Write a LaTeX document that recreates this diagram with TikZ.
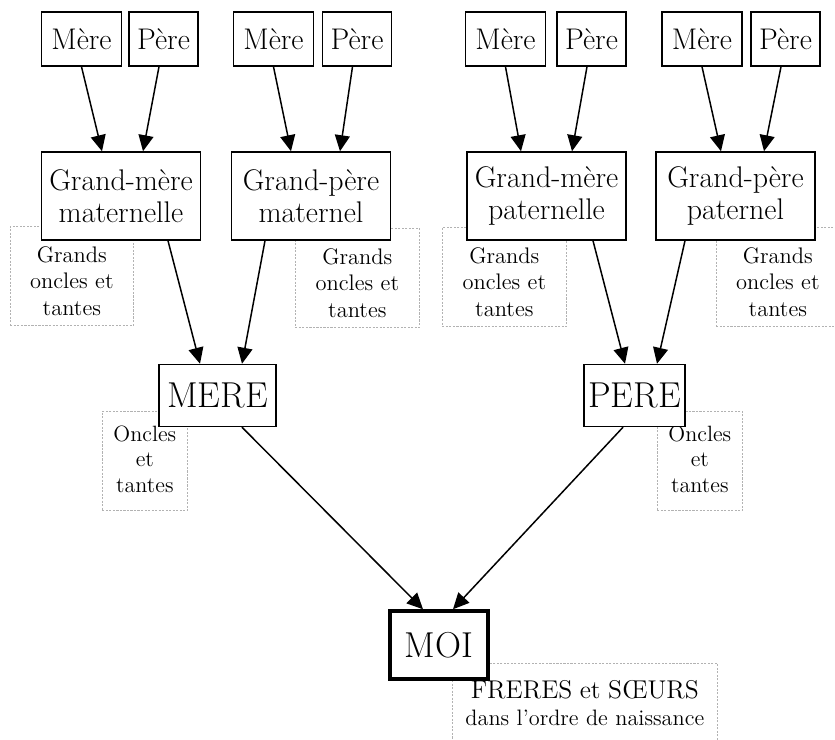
\documentclass[tikz,border=0pt]{standalone}
\usetikzlibrary{arrows.meta}

\begin{document}
\begin{tikzpicture}[x=1cm,y=1cm,>={Triangle[length=0.32cm,width=0.3cm]},
  boite/.style={draw,line width=0.85pt,fill=white,align=center,inner sep=0pt},
  aieul/.style={boite,minimum height=1.08cm,font=\fontsize{17}{19}\selectfont},
  gdparent/.style={boite,minimum width=3.18cm,minimum height=1.76cm,font=\fontsize{17}{18.2}\selectfont},
  parentbox/.style={boite,minimum height=1.24cm,font=\fontsize{20.5}{23}\selectfont},
  famille/.style={draw=gray!60,dash pattern=on 1.2pt off 0.8pt,line width=0.4pt,align=center,inner xsep=0pt,anchor=north west},
  gdoncles/.style={famille,text width=2.46cm,text height=0.52cm,inner ysep=0.2cm,font=\fontsize{12.8}{15.1}\selectfont},
  oncles/.style={famille,text width=1.7cm,text height=0.24cm,inner ysep=0.36cm,font=\fontsize{12.6}{14.5}\selectfont},
  lien/.style={->,line width=0.85pt}]
  \useasboundingbox (0,0) rectangle (16.7,14.8);

  % cadres pointilles (derriere)
  \node[gdoncles] (go1) at (0.20,10.28) {Grands\\oncles et\\tantes};
  \node[gdoncles,text width=2.48cm] (go2) at (5.90,10.24) {Grands\\oncles et\\tantes};
  \node[gdoncles,text width=2.48cm] (go3) at (8.84,10.26) {Grands\\oncles et\\tantes};
  \node[gdoncles] (go4) at (14.32,10.26) {Grands\\oncles et\\tantes};
  \node[oncles] (onc1) at (2.04,6.58) {Oncles\\et\\tantes};
  \node[oncles] (onc2) at (13.14,6.58) {Oncles\\et\\tantes};
  \node[famille,text width=5.3cm,text height=0.3cm,inner ysep=0.4cm,font=\fontsize{12.7}{15.4}\selectfont] (freres) at (9.04,1.54)
    {{\fontsize{14.6}{15.4}\selectfont FRERES et SŒURS}\\dans l’ordre de naissance};

  % arriere-grands-parents
  \node[aieul,minimum width=1.6cm] (mere1) at (1.63,14.02) {Mère};
  \node[aieul,minimum width=1.38cm] (pere1) at (3.27,14.02) {Père};
  \node[aieul,minimum width=1.6cm] (mere2) at (5.47,14.02) {Mère};
  \node[aieul,minimum width=1.38cm] (pere2) at (7.14,14.02) {Père};
  \node[aieul,minimum width=1.6cm] (mere3) at (10.11,14.02) {Mère};
  \node[aieul,minimum width=1.38cm] (pere3) at (11.83,14.02) {Père};
  \node[aieul,minimum width=1.6cm] (mere4) at (14.04,14.02) {Mère};
  \node[aieul,minimum width=1.38cm] (pere4) at (15.71,14.02) {Père};

  % grands-parents
  \node[gdparent] (gmmat) at (2.42,10.88) {Grand-mère\\maternelle};
  \node[gdparent] (gpmat) at (6.22,10.88) {Grand-père\\maternel};
  \node[gdparent] (gmpat) at (10.93,10.88) {Grand-mère\\paternelle};
  \node[gdparent] (gppat) at (14.71,10.88) {Grand-père\\paternel};

  % parents et moi
  \node[parentbox,minimum width=2.34cm] (mere) at (4.35,6.89) {MERE};
  \node[parentbox,minimum width=2.02cm] (pere) at (12.69,6.89) {PERE};
  \node[parentbox,line width=2pt,minimum width=1.96cm,minimum height=1.36cm] (moi) at (8.78,1.90) {MOI};

  \draw[lien] (mere1.south) -- ([xshift=-0.38cm]gmmat.north);
  \draw[lien] ([xshift=-0.09cm]pere1.south) -- ([xshift=0.44cm]gmmat.north);
  \draw[lien] (mere2.south) -- ([xshift=-0.4cm]gpmat.north);
  \draw[lien] ([xshift=-0.09cm]pere2.south) -- ([xshift=0.58cm]gpmat.north);
  \draw[lien] (mere3.south) -- ([xshift=-0.51cm]gmpat.north);
  \draw[lien] ([xshift=-0.09cm]pere3.south) -- ([xshift=0.51cm]gmpat.north);
  \draw[lien] (mere4.south) -- ([xshift=-0.29cm]gppat.north);
  \draw[lien] ([xshift=-0.09cm]pere4.south) -- ([xshift=0.57cm]gppat.north);

  \draw[lien] ([xshift=0.94cm]gmmat.south) -- ([xshift=-0.35cm]mere.north);
  \draw[lien] ([xshift=-0.92cm]gpmat.south) -- ([xshift=0.49cm]mere.north);
  \draw[lien] ([xshift=0.93cm]gmpat.south) -- ([xshift=-0.19cm]pere.north);
  \draw[lien] ([xshift=-1.01cm]gppat.south) -- ([xshift=0.45cm]pere.north);

  \draw[lien] ([xshift=0.49cm]mere.south) -- ([xshift=-0.32cm]moi.north);
  \draw[lien] ([xshift=-0.23cm]pere.south) -- ([xshift=0.28cm]moi.north);
\end{tikzpicture}
\end{document}
